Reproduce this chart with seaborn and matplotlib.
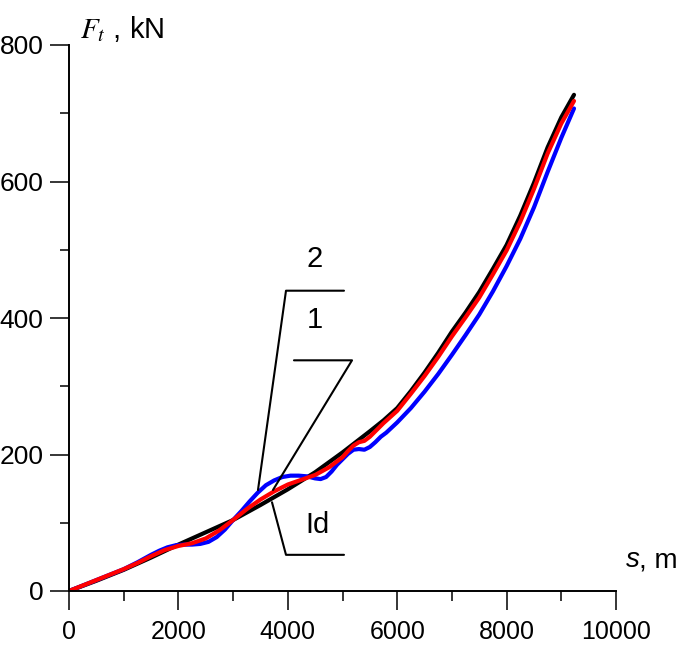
import numpy as np
import pandas as pd
import matplotlib
matplotlib.use("Agg")
import matplotlib.pyplot as plt
import seaborn as sns
from matplotlib.ticker import MultipleLocator

# curve Id (black)
s_id = [0, 500, 1000, 1500, 2000, 2500, 3000, 3500, 4000, 4500, 5000, 5500,
        5750, 6000, 6250, 6500, 6750, 7000, 7250, 7500, 7750, 8000, 8250,
        8500, 8750, 9000, 9232]
f_id = [0, 15, 31, 49, 68, 86, 104, 126, 149, 174, 203, 234,
        250, 268, 293, 320, 349, 380, 408, 438, 472, 507, 550,
        598, 650, 694, 727]

# curve 1 (red)
s_1 = [0, 250, 500, 750, 1000, 1250, 1500, 1750, 2000, 2250, 2500, 2750, 3000,
       3250, 3500, 3750, 4000, 4250, 4500, 4750, 5000, 5100, 5200, 5300, 5400,
       5500, 5600, 5750, 6000, 6250, 6500, 6750, 7000, 7250, 7500, 7750, 8000,
       8250, 8500, 8750, 9000, 9232]
f_1 = [0, 8, 16, 24, 32, 41, 51, 60, 66, 70, 77, 89, 104,
       120, 134, 146, 156, 163, 170, 181, 196, 205, 213, 218, 220,
       226, 234, 246, 264, 289, 315, 343, 373, 401, 430, 464, 499,
       541, 589, 641, 685, 718]

# curve 2 (blue)
s_2 = [0, 250, 500, 750, 1000, 1250, 1500, 1650, 1800, 1950, 2100, 2250, 2400,
       2550, 2700, 2850, 3000, 3150, 3300, 3450, 3600, 3750, 3900, 4050, 4200,
       4350, 4500, 4600, 4700, 4800, 4900, 5000, 5100, 5200, 5300, 5400, 5500,
       5600, 5700, 5800, 6000, 6250, 6500, 6750, 7000, 7250, 7500, 7750, 8000,
       8250, 8500, 8750, 9000, 9232]
f_2 = [0, 8, 16, 24, 32, 42, 53, 59, 64, 67, 68, 68, 69,
       72, 79, 90, 104, 117, 131, 144, 155, 162, 167, 169, 169,
       168, 165, 164, 167, 175, 185, 193, 201, 207, 208, 207, 211,
       218, 226, 232, 247, 268, 292, 318, 346, 375, 405, 439, 476,
       516, 562, 614, 664, 707]

curve_labels = ["2", "1", "Id"]
# leader lines: (x, y) vertices in data units
leaders = [
    ([5027, 3967, 3455], [440, 440, 148]),
    ([4113, 5174, 3729], [338, 338, 148]),
    ([3711, 3967, 5027], [130, 53, 53]),
]
label_pos = [(4497, 486), (4497, 397), (4534, 96)]

sns.set_style("ticks")
plt.rcParams['font.family'] = ['Liberation Sans', 'DejaVu Sans']
plt.rcParams['mathtext.fontset'] = 'stix'
plt.rcParams['text.color'] = 'black'
plt.rcParams['xtick.color'] = 'black'
plt.rcParams['ytick.color'] = 'black'

fig = plt.figure(figsize=(6.85, 6.5), dpi=100)
ax = fig.add_axes([69 / 685, 59 / 650, 547 / 685, 546 / 650])

sns.lineplot(x=s_id, y=f_id, ax=ax, color="black", lw=3, sort=False)
sns.lineplot(x=s_2, y=f_2, ax=ax, color="#0000ff", lw=3, sort=False)
sns.lineplot(x=s_1, y=f_1, ax=ax, color="#ff0000", lw=3, sort=False)

for (lx, ly), (tx, ty), lab in zip(leaders, label_pos, curve_labels):
    ax.plot(lx, ly, color="black", lw=1.5, clip_on=False)
    ax.text(tx, ty, lab, fontsize=21, ha="center", va="center")

ax.set_xlim(0, 10000)
ax.set_ylim(0, 800)
ax.xaxis.set_major_locator(MultipleLocator(2000))
ax.xaxis.set_minor_locator(MultipleLocator(1000))
ax.yaxis.set_major_locator(MultipleLocator(200))
ax.yaxis.set_minor_locator(MultipleLocator(100))
ax.tick_params(axis="x", which="major", length=14, width=1.1, pad=7, labelsize=18, direction="out")
ax.tick_params(axis="x", which="minor", length=7, width=1.1, direction="out")
ax.tick_params(axis="y", which="major", length=13.5, width=1.1, pad=5, labelsize=19, direction="out")
ax.tick_params(axis="y", which="minor", length=6.5, width=1.1, direction="out")
sns.despine(ax=ax)
for sp in ["left", "bottom"]:
    ax.spines[sp].set_linewidth(1.4)
    ax.spines[sp].set_color("black")

ax.text(201, 810, r"$F_t$ , kN", fontsize=21, ha="left", va="baseline", clip_on=False)
ax.text(10183, 35, "s", fontsize=20, style="italic", ha="left", va="baseline", clip_on=False)
ax.text(10420, 35, ", m", fontsize=20, ha="left", va="baseline", clip_on=False)

fig.savefig("out.png", dpi=100)
